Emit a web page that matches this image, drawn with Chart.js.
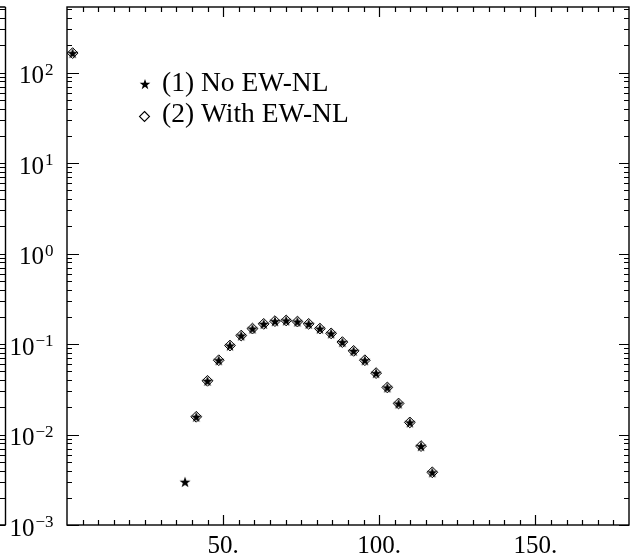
<!DOCTYPE html>
<html>
<head>
<meta charset="utf-8">
<script src="https://cdn.jsdelivr.net/npm/chart.js@4.4.1/dist/chart.umd.min.js"></script>
<style>
  html, body { margin: 0; padding: 0; background: #fff; }
  #wrap { width: 636px; height: 559px; }
</style>
</head>
<body>
<div id="wrap"><canvas id="chart" width="636" height="559"></canvas></div>
<script>
// bin centres (bins of 3.6 from 0 to 180)
var binCenters = [1.8, 37.8, 41.4, 45.0, 48.6, 52.2, 55.8, 59.4, 63.0, 66.6, 70.2, 73.8,
  77.4, 81.0, 84.6, 88.2, 91.8, 95.4, 99.0, 102.6, 106.2, 109.8, 113.4, 117.0];
var noEwNl = [164, 0.0030, 0.0157, 0.0392, 0.0662, 0.0962, 0.124, 0.148, 0.167, 0.179, 0.182, 0.177,
  0.167, 0.148, 0.131, 0.105, 0.084, 0.0662, 0.0477, 0.0331, 0.0220, 0.0136, 0.00745, 0.00382];
var withEwNl = [164, null, 0.0157, 0.0392, 0.0662, 0.0962, 0.124, 0.148, 0.167, 0.179, 0.182, 0.177,
  0.167, 0.148, 0.131, 0.105, 0.084, 0.0662, 0.0477, 0.0331, 0.0220, 0.0136, 0.00745, 0.00382];
var seriesLabels = ["(1) No EW-NL", "(2) With EW-NL"];
var xTickValues = [50, 100, 150];
var xTickLabels = ["50.", "100.", "150."];
var yDecades = [-3, -2, -1, 0, 1, 2];
var yExponents = ["\u22123", "\u22122", "\u22121", "0", "1", "2"];

function points(values) {
  var out = [];
  for (var i = 0; i < binCenters.length; i++) {
    if (values[i] != null) out.push({ x: binCenters[i], y: values[i] });
  }
  return out;
}

function makeStar(r) {
  var c = document.createElement("canvas");
  var s = Math.ceil(r * 2 + 2);
  c.width = s; c.height = s;
  var g = c.getContext("2d");
  g.fillStyle = "#000";
  g.beginPath();
  for (var k = 0; k < 10; k++) {
    var rad = (k % 2 === 0) ? r : r * 0.4;
    var ang = -Math.PI / 2 + k * Math.PI / 5;
    var px = s / 2 + rad * Math.cos(ang), py = s / 2 + 0.6 + rad * Math.sin(ang);
    if (k === 0) g.moveTo(px, py); else g.lineTo(px, py);
  }
  g.closePath();
  g.fill();
  return c;
}
var star = makeStar(5.8);
var legendStar = makeStar(5.6);

var FONT = '"Liberation Serif", "DejaVu Serif", serif';

var decor = {
  id: "decor",
  afterDatasetsDraw: function (chart) {
    var ctx = chart.ctx, a = chart.chartArea;
    var xs = chart.scales.x, ys = chart.scales.y;
    ctx.save();
    ctx.strokeStyle = "#000";
    ctx.fillStyle = "#000";
    ctx.lineWidth = 1.4;
    ctx.strokeRect(a.left, a.top, a.right - a.left, a.bottom - a.top);

    // neighbouring panel edge on the far left
    ctx.beginPath();
    ctx.moveTo(5.5, a.top); ctx.lineTo(5.5, a.bottom);
    ctx.moveTo(0, a.top); ctx.lineTo(5.5, a.top);
    ctx.moveTo(0, a.bottom); ctx.lineTo(5.5, a.bottom);
    ctx.stroke();

    ctx.lineWidth = 1.2;
    ctx.beginPath();
    for (var v = 5; v < 180; v += 5) {
      var px = Math.round(xs.getPixelForValue(v)) + 0.5;
      var len = v % 50 === 0 ? 10 : 5;
      ctx.moveTo(px, a.bottom); ctx.lineTo(px, a.bottom - len);
      ctx.moveTo(px, a.top); ctx.lineTo(px, a.top + len);
    }
    yDecades.forEach(function (d) {
      for (var m = 1; m < 10; m++) {
        var val = m * Math.pow(10, d);
        if (val > ys.max) break;
        var py = Math.round(ys.getPixelForValue(val)) + 0.5;
        ctx.moveTo(a.left, py); ctx.lineTo(a.left + (m === 1 ? 12 : 5), py);
        ctx.moveTo(a.right, py); ctx.lineTo(a.right - (m === 1 ? 10 : 5), py);
        ctx.moveTo(0, py); ctx.lineTo(5.5, py);
      }
    });
    ctx.stroke();

    // tick labels
    ctx.font = "25px " + FONT;
    ctx.textAlign = "center";
    ctx.textBaseline = "alphabetic";
    xTickValues.forEach(function (v, i) {
      ctx.fillText(xTickLabels[i], xs.getPixelForValue(v), 553);
    });
    ctx.textAlign = "right";
    yDecades.forEach(function (d, i) {
      var py = ys.getPixelForValue(Math.pow(10, d));
      ctx.font = "17px " + FONT;
      ctx.fillText(yExponents[i], 53.5, py + 2);
      var w = ctx.measureText(yExponents[i]).width;
      ctx.font = "25px " + FONT;
      ctx.fillText("10", 53.5 - w - 1, py + 10.5);
    });

    // legend
    ctx.textAlign = "left";
    ctx.font = "27.5px " + FONT;
    ctx.drawImage(legendStar, 145 - legendStar.width / 2, 84 - legendStar.height / 2);
    ctx.fillText(chart.data.datasets[0].label, 162, 91);
    ctx.lineWidth = 1.1;
    ctx.beginPath();
    ctx.moveTo(144.5, 111.5); ctx.lineTo(149.5, 116.5); ctx.lineTo(144.5, 121.5); ctx.lineTo(139.5, 116.5);
    ctx.closePath();
    ctx.stroke();
    ctx.fillText(chart.data.datasets[1].label, 162, 122);
    ctx.restore();
  }
};

new Chart(document.getElementById("chart").getContext("2d"), {
  type: "scatter",
  data: {
    datasets: [
      {
        label: seriesLabels[0],
        data: points(noEwNl),
        pointStyle: star,
        pointRadius: 6,
        borderColor: "#000",
        backgroundColor: "#000"
      },
      {
        label: seriesLabels[1],
        data: points(withEwNl),
        pointStyle: "rectRot",
        pointRadius: 5.4,
        borderWidth: 1,
        borderColor: "#000",
        backgroundColor: "rgba(0,0,0,0)"
      }
    ]
  },
  options: {
    responsive: false,
    animation: false,
    devicePixelRatio: 1,
    layout: { padding: { left: 67, right: 4, top: 6, bottom: 34 } },
    plugins: { legend: { display: false }, tooltip: { enabled: false } },
    scales: {
      x: { type: "linear", min: 0, max: 180, display: false },
      y: { type: "logarithmic", min: 0.001, max: 530, display: false }
    }
  },
  plugins: [decor]
});
</script>
</body>
</html>
